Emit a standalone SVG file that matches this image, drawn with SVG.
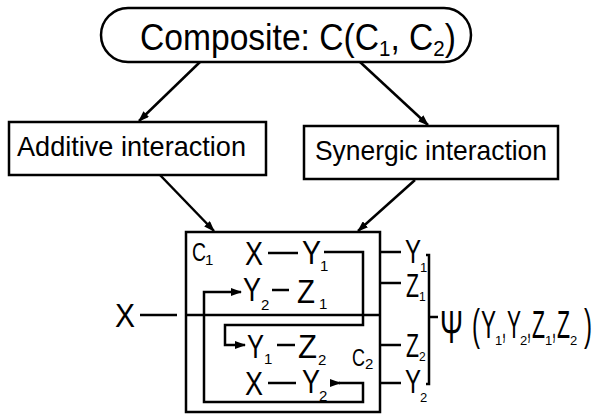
<svg xmlns="http://www.w3.org/2000/svg" width="601" height="418" viewBox="0 0 601 418">
<style>
.box{fill:#fff;stroke:#000;stroke-width:2.5}
.ln{fill:none;stroke:#000;stroke-width:2.5}
.t{font-family:"Liberation Sans",Arial,sans-serif;fill:#000}
.b{font-size:34px}
.s{font-size:15px}
.p{font-size:38px}
</style>
<defs>
<marker id="ah" markerUnits="userSpaceOnUse" markerWidth="11" markerHeight="8" viewBox="0 0 11 8" refX="10" refY="4" orient="auto">
<path d="M0,0 L11,4 L0,8 z" fill="#000"/>
</marker>
</defs>
<rect width="601" height="418" fill="#fff"/>
<g id="composite">
<rect class="box" x="101" y="8" width="370" height="54" rx="27"/>
<text class="t" x="140" y="50" font-size="36" textLength="316" lengthAdjust="spacingAndGlyphs">Composite: C(C<tspan font-size="22" dy="6">1</tspan><tspan dy="-6">, C</tspan><tspan font-size="22" dy="6">2</tspan><tspan dy="-6">)</tspan></text>
</g>
<g id="additive">
<rect class="box" x="9" y="122" width="257" height="53"/>
<text class="t" x="17" y="156" font-size="28" textLength="229" lengthAdjust="spacingAndGlyphs">Additive interaction</text>
</g>
<g id="synergic">
<rect class="box" x="304" y="126" width="254" height="53"/>
<text class="t" x="315" y="160" font-size="28" textLength="232" lengthAdjust="spacingAndGlyphs">Synergic interaction</text>
</g>
<g id="system">
<rect class="box" x="186" y="232" width="194" height="180"/>
<line class="ln" x1="186" y1="315" x2="380" y2="315"/>
<text class="t" x="192" y="261" font-size="25" textLength="14" lengthAdjust="spacingAndGlyphs">C</text>
<text class="t s" x="205" y="265">1</text>
<text class="t" x="352" y="366" font-size="23" textLength="13" lengthAdjust="spacingAndGlyphs">C</text>
<text class="t s" x="365" y="369">2</text>
<text class="t b" x="245" y="265" textLength="18" lengthAdjust="spacingAndGlyphs">X</text>
<text class="t b" x="302" y="264" textLength="19" lengthAdjust="spacingAndGlyphs">Y</text>
<text class="t s" x="320" y="271">1</text>
<text class="t b" x="243" y="301" textLength="18" lengthAdjust="spacingAndGlyphs">Y</text>
<text class="t s" x="261" y="310">2</text>
<text class="t b" x="297" y="303" textLength="18" lengthAdjust="spacingAndGlyphs">Z</text>
<text class="t s" x="319" y="309">1</text>
<text class="t b" x="247" y="358" textLength="17" lengthAdjust="spacingAndGlyphs">Y</text>
<text class="t s" x="264" y="364">1</text>
<text class="t b" x="298" y="358" textLength="19" lengthAdjust="spacingAndGlyphs">Z</text>
<text class="t s" x="318" y="365">2</text>
<text class="t b" x="245" y="395" textLength="18" lengthAdjust="spacingAndGlyphs">X</text>
<text class="t b" x="302" y="393" textLength="18" lengthAdjust="spacingAndGlyphs">Y</text>
<text class="t s" x="319" y="401">2</text>
</g>
<g id="input-x">
<text class="t b" x="115" y="327" textLength="20" lengthAdjust="spacingAndGlyphs">X</text>
</g>
<g id="outputs">
<text class="t b" x="405" y="263" textLength="16" lengthAdjust="spacingAndGlyphs">Y</text>
<text class="t" x="420" y="272" font-size="13">1</text>
<text class="t b" x="406" y="297" textLength="13" lengthAdjust="spacingAndGlyphs">Z</text>
<text class="t" x="419" y="301" font-size="12">1</text>
<text class="t b" x="406" y="357" textLength="13" lengthAdjust="spacingAndGlyphs">Z</text>
<text class="t" x="419" y="361" font-size="12">2</text>
<text class="t b" x="405" y="393" textLength="16" lengthAdjust="spacingAndGlyphs">Y</text>
<text class="t" x="420" y="402" font-size="13">2</text>
</g>
<g id="psi">
<text class="t" x="440" y="343" font-size="46" textLength="23" lengthAdjust="spacingAndGlyphs">Ψ</text>
<text class="t" x="472" y="340" font-size="44" textLength="8" lengthAdjust="spacingAndGlyphs">(</text>
<text class="t p" x="481" y="338" textLength="15" lengthAdjust="spacingAndGlyphs">Y</text>
<text class="t" x="495" y="345" font-size="13">1</text>
<text class="t p" x="502" y="338" textLength="4" lengthAdjust="spacingAndGlyphs">,</text>
<text class="t p" x="507" y="338" textLength="14" lengthAdjust="spacingAndGlyphs">Y</text>
<text class="t" x="520" y="345" font-size="13">2</text>
<text class="t p" x="527" y="338" textLength="4" lengthAdjust="spacingAndGlyphs">,</text>
<text class="t p" x="532" y="338" textLength="13" lengthAdjust="spacingAndGlyphs">Z</text>
<text class="t" x="545" y="345" font-size="13">1</text>
<text class="t p" x="552" y="338" textLength="4" lengthAdjust="spacingAndGlyphs">,</text>
<text class="t p" x="557" y="338" textLength="13" lengthAdjust="spacingAndGlyphs">Z</text>
<text class="t" x="570" y="345" font-size="13">2</text>
<text class="t" x="584" y="340" font-size="44" textLength="8" lengthAdjust="spacingAndGlyphs">)</text>
</g>
<g id="connectors">
<line class="ln" x1="200" y1="62" x2="139" y2="121" marker-end="url(#ah)"/>
<line class="ln" x1="360" y1="62" x2="428" y2="125" marker-end="url(#ah)"/>
<line class="ln" x1="160" y1="175" x2="214" y2="231" marker-end="url(#ah)"/>
<line class="ln" x1="415" y1="180" x2="358" y2="231" marker-end="url(#ah)"/>
<line class="ln" x1="140" y1="315" x2="177" y2="315"/>
<line class="ln" x1="268" y1="253" x2="298" y2="253"/>
<line class="ln" x1="272" y1="290" x2="289" y2="290"/>
<line class="ln" x1="277" y1="345" x2="295" y2="345"/>
<line class="ln" x1="268" y1="383" x2="296" y2="383"/>
<path class="ln" d="M324,252 H363 V325 H225 V345 H245" marker-end="url(#ah)"/>
<path class="ln" d="M330,383 H340" marker-end="url(#ah)"/>
<path class="ln" d="M339,383 H363 V402 H204 V292 H241" marker-end="url(#ah)"/>
<line class="ln" x1="380" y1="252" x2="401" y2="252"/>
<line class="ln" x1="380" y1="283" x2="401" y2="283"/>
<line class="ln" x1="380" y1="345" x2="401" y2="345"/>
<line class="ln" x1="380" y1="383" x2="401" y2="383"/>
<path class="ln" d="M426,255 H429 V384 H426 M429,317 H438"/>
</g>
</svg>
